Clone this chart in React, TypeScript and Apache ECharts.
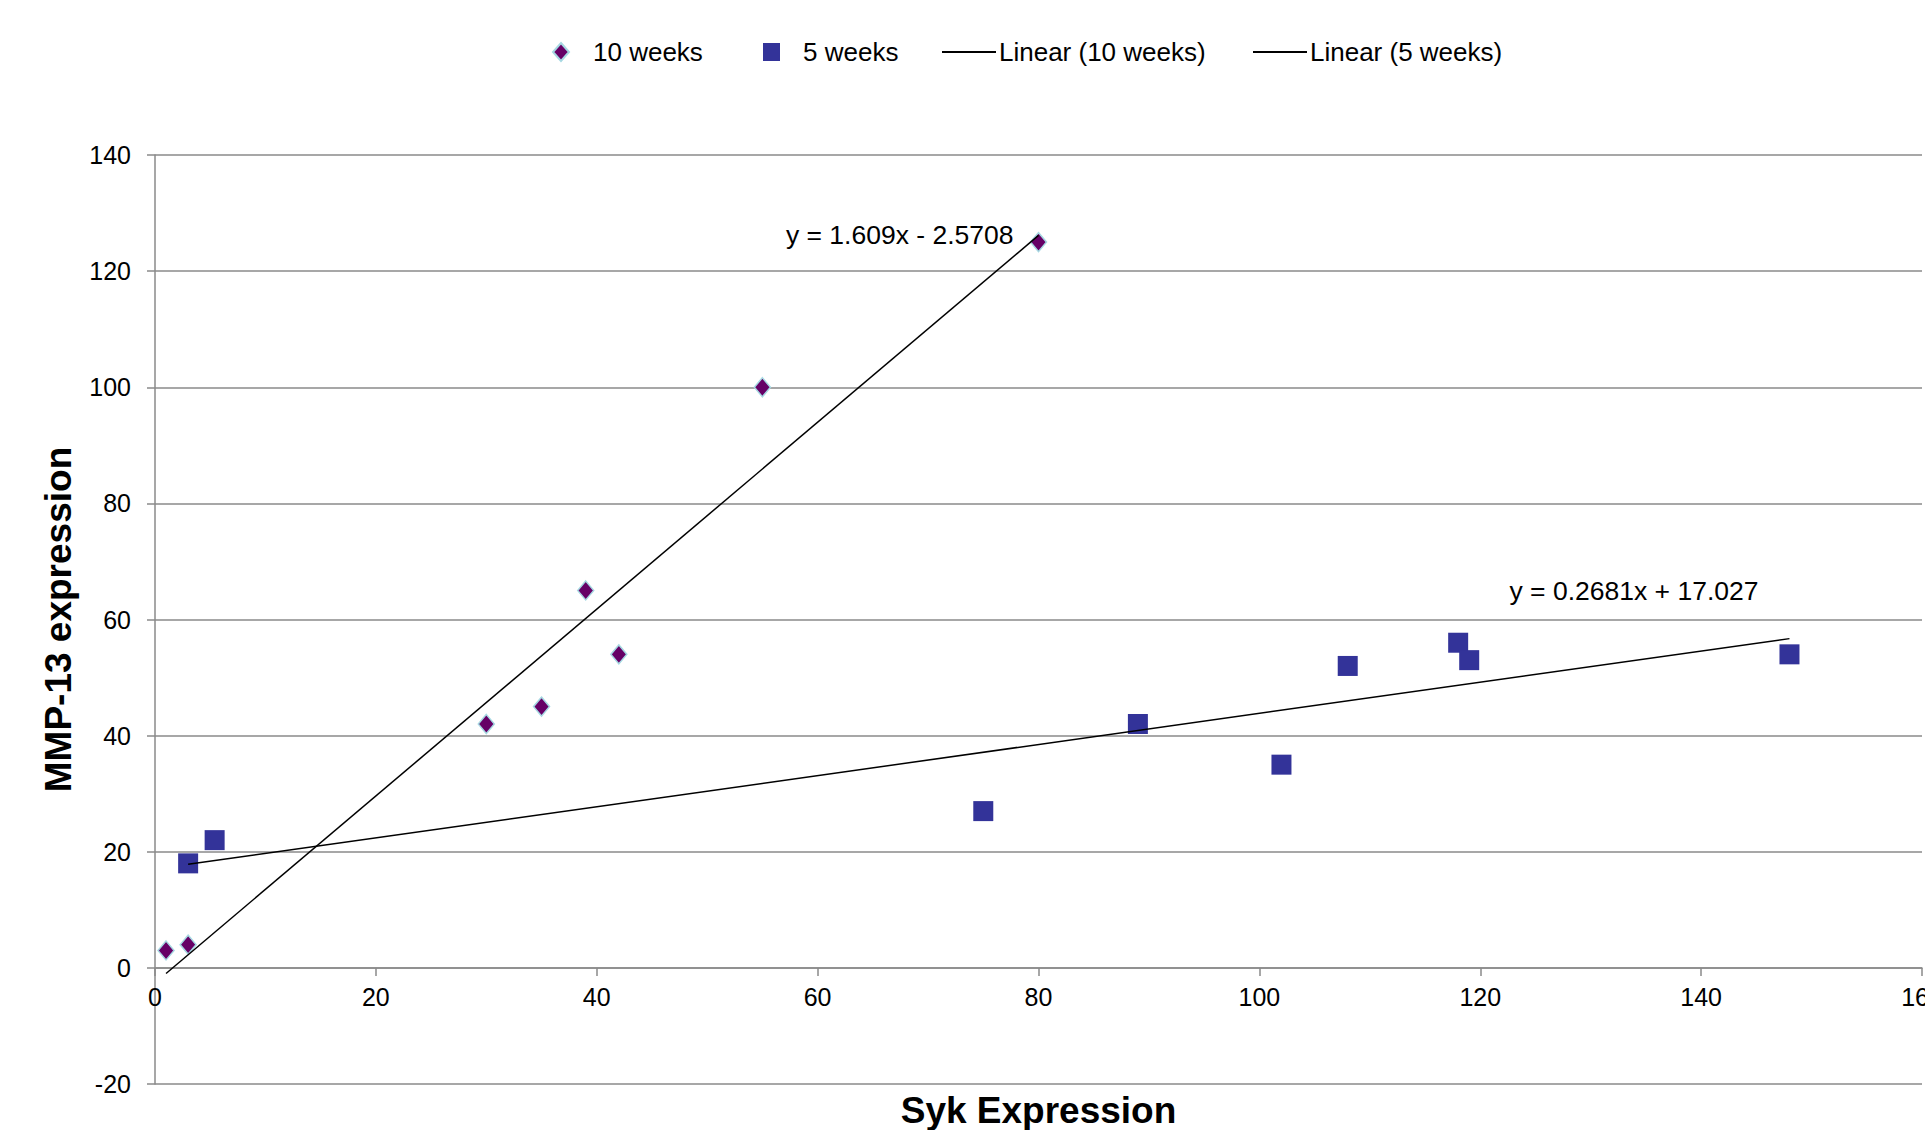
import React, { useEffect, useRef } from "react";
import * as echarts from "echarts";

const tenWeeksX = [1, 3, 30, 35, 39, 42, 55, 80];
const tenWeeksY = [3, 4, 42, 45, 65, 54, 100, 125];
const fiveWeeksX = [3, 5.4, 75, 89, 102, 108, 118, 119, 148];
const fiveWeeksY = [18, 22, 27, 42, 35, 52, 56, 53, 54];
const trendSlopes = [1.609, 0.2681];
const trendIntercepts = [-2.5708, 17.027];
const trendLabels = ["y = 1.609x - 2.5708", "y = 0.2681x + 17.027"];
const seriesNames = ["10 weeks", "5 weeks", "Linear (10 weeks)", "Linear (5 weeks)"];
const X_MIN = 0, X_MAX = 160, X_STEP = 20;
const Y_MIN = -20, Y_MAX = 140, Y_STEP = 20;

const FONT = "'Liberation Sans', Arial, sans-serif";
const GRAY = "#8a8a8a";
const W = 1925, H = 1130;
const GRID = { left: 155, right: 3, top: 155, bottom: 46 };

function trendLine(xs: number[], slope: number, intercept: number) {
  const x0 = Math.min(...xs);
  const x1 = Math.max(...xs);
  return [
    [x0, slope * x0 + intercept],
    [x1, slope * x1 + intercept],
  ];
}

export default function App() {
  const ref = useRef<HTMLDivElement>(null);
  useEffect(() => {
    if (!ref.current) return;
    const chart = echarts.init(ref.current, null, { renderer: "svg" });
    const t10 = trendLine(tenWeeksX, trendSlopes[0], trendIntercepts[0]);
    const t5 = trendLine(fiveWeeksX, trendSlopes[1], trendIntercepts[1]);
    const legendText = { fontSize: 26, color: "#000", fontFamily: FONT };
    // x axis sits on y = 0: lift it from the grid's bottom by the height of the negative range
    const gridH = H - GRID.top - GRID.bottom;
    const xAxisOffset = -gridH * (0 - Y_MIN) / (Y_MAX - Y_MIN);
    const option: any = {
      animation: false,
      backgroundColor: "#fff",
      textStyle: { fontFamily: FONT },
      legend: [
        {
          data: [{ name: seriesNames[0], icon: "diamond" }],
          left: 547, top: 34, padding: 5, itemWidth: 16, itemHeight: 18, selectedMode: false,
          textStyle: { ...legendText, padding: [0, 0, 0, 19] },
        },
        {
          data: [{ name: seriesNames[1], icon: "rect" }],
          left: 758, top: 34, padding: 5, itemWidth: 17, itemHeight: 18, selectedMode: false,
          textStyle: { ...legendText, padding: [0, 0, 0, 18] },
        },
        {
          data: [{ name: seriesNames[2], icon: "rect" }],
          left: 937, top: 34, padding: 5, itemWidth: 54, itemHeight: 2, selectedMode: false,
          textStyle: { ...legendText, padding: [0, 0, 0, -2] },
        },
        {
          data: [{ name: seriesNames[3], icon: "rect" }],
          left: 1248, top: 34, padding: 5, itemWidth: 54, itemHeight: 2, selectedMode: false,
          textStyle: { ...legendText, padding: [0, 0, 0, -2] },
        },
      ],
      grid: { ...GRID, containLabel: false, outerBoundsMode: "none" },
      xAxis: {
        type: "value",
        min: X_MIN,
        max: X_MAX,
        interval: X_STEP,
        position: "bottom",
        offset: xAxisOffset,
        name: "Syk Expression",
        nameLocation: "middle",
        nameGap: 124,
        nameTextStyle: { fontSize: 37, fontWeight: "bold", color: "#000", fontFamily: FONT },
        axisLine: { show: true, onZero: false, lineStyle: { color: GRAY, width: 1.5 } },
        axisTick: { show: true, length: 8, lineStyle: { color: GRAY, width: 1.5 } },
        axisLabel: { fontSize: 25, color: "#000", margin: 17, fontFamily: FONT },
        splitLine: { show: false },
      },
      yAxis: {
        type: "value",
        min: Y_MIN,
        max: Y_MAX,
        interval: Y_STEP,
        name: "MMP-13 expression",
        nameLocation: "middle",
        nameGap: 78,
        nameTextStyle: { fontSize: 37, fontWeight: "bold", color: "#000", fontFamily: FONT },
        axisLine: { show: true, lineStyle: { color: GRAY, width: 1.5 } },
        axisTick: { show: true, length: 8, lineStyle: { color: GRAY, width: 1.5 } },
        axisLabel: { fontSize: 25, color: "#000", margin: 24, fontFamily: FONT },
        splitLine: { show: true, lineStyle: { color: GRAY, width: 1.5 } },
      },
      series: [
        {
          name: seriesNames[0],
          type: "scatter",
          symbol: "diamond",
          symbolSize: [16, 19],
          itemStyle: { color: "#660066", borderColor: "#a6d8e2", borderWidth: 1.5, opacity: 1 },
          data: tenWeeksX.map((x, i) => [x, tenWeeksY[i]]),
          z: 3,
        },
        {
          name: seriesNames[1],
          type: "scatter",
          symbol: "rect",
          symbolSize: 20,
          itemStyle: { color: "#333399", opacity: 1 },
          data: fiveWeeksX.map((x, i) => [x, fiveWeeksY[i]]),
          z: 3,
        },
        {
          name: seriesNames[2],
          type: "line",
          symbol: "circle",
          symbolSize: 0,
          showSymbol: true,
          itemStyle: { color: "#000" },
          lineStyle: { color: "#000", width: 1.5 },
          data: [
            t10[0],
            {
              value: t10[1],
              label: {
                show: true,
                formatter: trendLabels[0],
                position: "left",
                distance: 25,
                fontSize: 26.5,
                color: "#000",
                fontFamily: FONT,
              },
            },
          ],
          z: 4,
        },
        {
          name: seriesNames[3],
          type: "line",
          symbol: "circle",
          symbolSize: 0,
          showSymbol: true,
          itemStyle: { color: "#000" },
          lineStyle: { color: "#000", width: 1.5 },
          data: [
            t5[0],
            {
              value: t5[1],
              label: {
                show: true,
                formatter: trendLabels[1],
                position: "left",
                distance: 31,
                offset: [0, -48],
                fontSize: 26.5,
                color: "#000",
                fontFamily: FONT,
              },
            },
          ],
          z: 4,
        },
      ],
    };
    chart.setOption(option);
    return () => chart.dispose();
  }, []);
  return (
    <div
      ref={ref}
      style={{ position: "absolute", left: 0, top: 0, width: W, height: H, background: "#fff" }}
    />
  );
}
